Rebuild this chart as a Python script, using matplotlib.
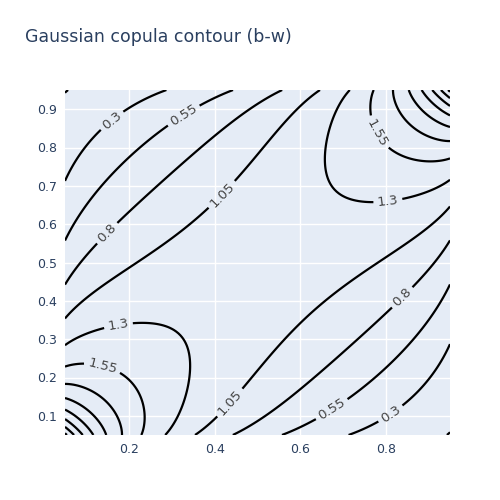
from statistics import NormalDist

import matplotlib
matplotlib.use("Agg")
import matplotlib.pyplot as plt
import numpy as np

# copula parameter and grid
rho = 0.55
u_min, u_max = 0.05, 0.95
n_grid = 181
levels = [0.05, 0.3, 0.55, 0.8, 1.05, 1.3, 1.55, 1.8, 2.05, 2.3, 2.55, 2.8, 3.05]
x_ticks = [0.2, 0.4, 0.6, 0.8]
y_ticks = [0.1, 0.2, 0.3, 0.4, 0.5, 0.6, 0.7, 0.8, 0.9]

# where the contour labels sit in the reference
label_spots = [
    (0.162, 0.867), (0.326, 0.886), (0.417, 0.677), (0.15, 0.575),
    (0.174, 0.342), (0.139, 0.235), (0.436, 0.134), (0.672, 0.12),
    (0.79, 0.141), (0.811, 0.44), (0.804, 0.669), (0.734, 0.81),
]


def gaussian_copula_density(u, v, r):
    inv = np.vectorize(NormalDist().inv_cdf)
    x = inv(u)
    y = inv(v)
    num = r * r * (x * x + y * y) - 2 * r * x * y
    return np.exp(-num / (2 * (1 - r * r))) / np.sqrt(1 - r * r)


u = np.linspace(u_min, u_max, n_grid)
U, V = np.meshgrid(u, u)
Z = gaussian_copula_density(U, V, rho)

fig = plt.figure(figsize=(5, 5), dpi=100)
ax = fig.add_axes([0.13, 0.13, 0.77, 0.69])
ax.set_facecolor("#E5ECF6")

cs = ax.contour(U, V, Z, levels=levels, colors="black", linewidths=1.6)
ax.clabel(cs, inline=True, fontsize=9.5, colors="#444444", fmt="%g",
          manual=label_spots, inline_spacing=4)

ax.set_xlim(u_min, u_max)
ax.set_ylim(u_min, u_max)
ax.set_xticks(x_ticks)
ax.set_yticks(y_ticks)
ax.set_xticklabels([f"{t:g}" for t in x_ticks])
ax.set_yticklabels([f"{t:g}" for t in y_ticks])
ax.grid(True, color="white", linewidth=1)
ax.set_axisbelow(True)
ax.tick_params(length=0, labelsize=9, labelcolor="#2a3f5f", pad=6)
for spine in ax.spines.values():
    spine.set_visible(False)

fig.text(0.05, 0.915, "Gaussian copula contour (b-w)", fontsize=12.5,
         color="#2a3f5f", va="baseline")

fig.savefig("out.png", dpi=100)
